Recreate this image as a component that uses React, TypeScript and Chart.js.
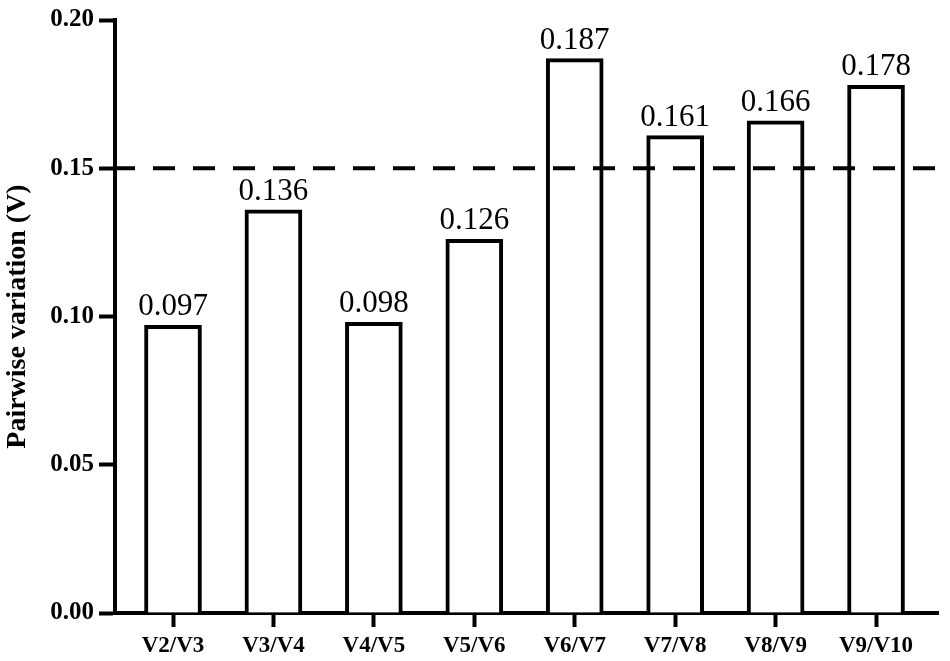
import React, { useEffect, useRef } from "react";
import { Chart, registerables } from "chart.js";

Chart.register(...registerables);

const categories = ["V2/V3", "V3/V4", "V4/V5", "V5/V6", "V6/V7", "V7/V8", "V8/V9", "V9/V10"];
const values = [0.097, 0.136, 0.098, 0.126, 0.187, 0.161, 0.166, 0.178];
const valueLabels = ["0.097", "0.136", "0.098", "0.126", "0.187", "0.161", "0.166", "0.178"];
const threshold = 0.15;
const yTicks = [0, 0.05, 0.1, 0.15, 0.2];

const SERIF = "'Liberation Serif', 'Times New Roman', serif";

export default function App() {
  const ref = useRef<HTMLCanvasElement | null>(null);

  useEffect(() => {
    const canvas = ref.current;
    if (!canvas) return;
    let chart: any = null;
    let cancelled = false;

    const thresholdPlugin = {
      id: "thresholdLine",
      afterDatasetsDraw(c: any) {
        const ctx = c.ctx;
        const y = c.scales.y.getPixelForValue(threshold);
        ctx.save();
        ctx.strokeStyle = "#000";
        ctx.lineWidth = 4;
        ctx.setLineDash([22, 18]);
        ctx.beginPath();
        ctx.moveTo(c.chartArea.left - 2, y);
        ctx.lineTo(c.width, y);
        ctx.stroke();
        ctx.restore();
      },
    };

    const valueLabelPlugin = {
      id: "valueLabels",
      afterDatasetsDraw(c: any) {
        const ctx = c.ctx;
        const meta = c.getDatasetMeta(0);
        ctx.save();
        ctx.fillStyle = "#000";
        ctx.font = `31px ${SERIF}`;
        ctx.textAlign = "center";
        ctx.textBaseline = "alphabetic";
        meta.data.forEach((bar: any, i: number) => {
          ctx.fillText(valueLabels[i], bar.x, bar.y - 10);
        });
        ctx.restore();
      },
    };

    const build = () => {
      if (cancelled) return;
      chart = new Chart(canvas, {
        type: "bar",
        data: {
          datasets: [
            {
              data: categories.map((_, i) => ({ x: i, y: values[i] })),
              backgroundColor: "#ffffff",
              borderColor: "#000000",
              borderWidth: 4,
              borderSkipped: "start",
              barThickness: 57,
            },
          ],
        },
        options: {
          responsive: false,
          maintainAspectRatio: false,
          animation: false,
          layout: { padding: { top: 14, right: 12, left: 0, bottom: 0 } },
          plugins: {
            legend: { display: false },
            tooltip: { enabled: false },
          },
          scales: {
            x: {
              type: "linear",
              offset: false,
              min: -0.5775,
              max: 7.617,
              afterBuildTicks: (scale: any) => {
                scale.ticks = categories.map((_, i) => ({ value: i }));
              },
              afterFit: (scale: any) => {
                scale.height = 48;
              },
              grid: {
                offset: false,
                drawOnChartArea: false,
                drawTicks: true,
                tickLength: 14,
                tickWidth: 4,
                tickColor: "#000",
              },
              border: { display: true, color: "#000", width: 4 },
              ticks: {
                autoSkip: false,
                maxRotation: 0,
                padding: 5,
                color: "#000",
                font: { family: SERIF, size: 23, weight: "bold" },
                callback: (v: any) => categories[Math.round(Number(v))] ?? "",
              },
            },
            y: {
              type: "linear",
              min: 0,
              max: 0.2,
              afterBuildTicks: (scale: any) => {
                scale.ticks = yTicks.map((v) => ({ value: v }));
              },
              afterFit: (scale: any) => {
                scale.width = 115;
              },
              grid: {
                drawOnChartArea: false,
                drawTicks: true,
                tickLength: 16,
                tickWidth: 4,
                tickColor: "#000",
              },
              border: { display: true, color: "#000", width: 4 },
              ticks: {
                padding: 5,
                color: "#000",
                font: { family: SERIF, size: 25, weight: "bold" },
                callback: (v: any) => Number(v).toFixed(2),
              },
              title: {
                display: true,
                text: "Pairwise variation (V)",
                color: "#000",
                font: { family: SERIF, size: 28, weight: "bold" },
                padding: { top: 1, bottom: 0 },
              },
            },
          },
        },
        plugins: [thresholdPlugin, valueLabelPlugin],
      });
    };

    const fonts: any = (document as any).fonts;
    if (fonts && fonts.load) {
      Promise.all([
        fonts.load(`30px "Liberation Serif"`),
        fonts.load(`bold 24px "Liberation Serif"`),
      ])
        .catch(() => {})
        .then(build);
    } else {
      build();
    }

    return () => {
      cancelled = true;
      if (chart) chart.destroy();
    };
  }, []);

  return (
    <div style={{ position: "absolute", left: 0, top: 0, width: 950, height: 661, background: "#fff" }}>
      <canvas ref={ref} width={950} height={661} style={{ display: "block" }} />
    </div>
  );
}
